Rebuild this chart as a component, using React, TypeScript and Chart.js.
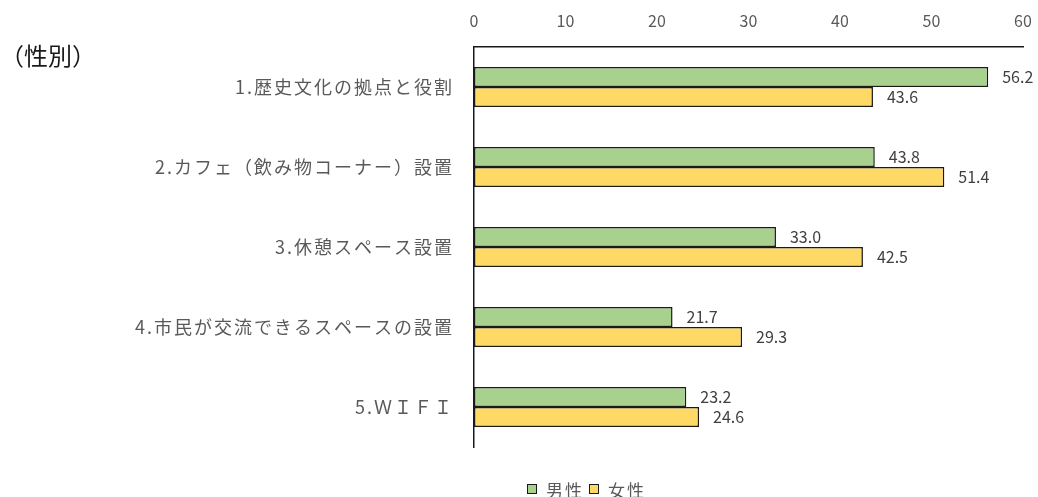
import React, { useEffect, useRef } from "react";
import { Chart, registerables } from "chart.js";

Chart.register(...registerables);

const categories = [
  "1.歴史文化の拠点と役割",
  "2.カフェ（飲み物コーナー）設置",
  "3.休憩スペース設置",
  "4.市民が交流できるスペースの設置",
  "5.ＷＩＦＩ",
];
const maleValues = [56.2, 43.8, 33.0, 21.7, 23.2];
const femaleValues = [43.6, 51.4, 42.5, 29.3, 24.6];
const seriesNames = ["男性", "女性"];
const seriesColors = ["#A9D18E", "#FFD966"];
const titleText = "（性別）";

const FONT = "'Noto Sans CJK JP', 'Noto Sans', sans-serif";

const dataLabelPlugin = {
  id: "dataLabels",
  afterDatasetsDraw(chart: any) {
    const ctx = chart.ctx;
    ctx.save();
    ctx.font = `16px ${FONT}`;
    ctx.fillStyle = "#404040";
    ctx.textAlign = "left";
    ctx.textBaseline = "middle";
    chart.data.datasets.forEach((ds: any, di: number) => {
      const meta = chart.getDatasetMeta(di);
      meta.data.forEach((el: any, i: number) => {
        const v = ds.data[i] as number;
        ctx.fillText(v.toFixed(1), el.x + 14, el.y);
      });
    });
    ctx.restore();
    // wider letter spacing for the category axis labels (drawn after datasets, ticks.z = 1)
    (ctx as any).letterSpacing = "2px";
  },
  afterDraw(chart: any) {
    (chart.ctx as any).letterSpacing = "0px";
  },
};

export default function App() {
  const ref = useRef<HTMLCanvasElement>(null);
  useEffect(() => {
    if (!ref.current) return;
    const chart = new Chart(ref.current, {
      type: "bar",
      data: {
        labels: categories,
        datasets: [maleValues, femaleValues].map((d, k) => ({
          label: seriesNames[k],
          data: d,
          backgroundColor: seriesColors[k],
          borderColor: "#1a1a1a",
          borderWidth: 1.5,
          borderSkipped: false,
          categoryPercentage: 0.5,
          barPercentage: 1,
        })),
      },
      options: {
        indexAxis: "y",
        animation: false,
        responsive: true,
        maintainAspectRatio: false,
        layout: { padding: { left: 0, right: 15, top: 0, bottom: 50 } },
        plugins: {
          legend: { display: false },
          tooltip: { enabled: false },
          title: { display: false },
        },
        scales: {
          x: {
            position: "top",
            min: 0,
            max: 60,
            ticks: {
              stepSize: 10,
              color: "#595959",
              font: { family: FONT, size: 16 },
              padding: 16,
            },
            grid: { display: false, drawTicks: false },
            border: { display: true, color: "#1a1a1a", width: 1.5 },
            afterFit: (s: any) => {
              s.height = 47;
              s.paddingLeft = 0;
              s.paddingRight = 0;
            },
          },
          y: {
            ticks: {
              z: 1,
              color: "#595959",
              font: { family: FONT, size: 18 },
              padding: 20,
            },
            grid: { display: false, drawTicks: false },
            border: { display: true, color: "#1a1a1a", width: 1.5 },
            afterFit: (s: any) => {
              s.width = 474;
            },
          },
        },
      },
      plugins: [dataLabelPlugin],
    } as any);
    return () => chart.destroy();
  }, []);
  return (
    <div style={{ position: "fixed", left: 0, top: 0, width: 1038, height: 497, background: "#fff" }}>
      <div
        style={{
          position: "absolute",
          left: 0,
          top: 40,
          fontFamily: FONT,
          fontSize: 24,
          color: "#1a1a1a",
          lineHeight: "30px",
          whiteSpace: "nowrap",
        }}
      >
        {titleText}
      </div>
      <canvas ref={ref} style={{ width: 1038, height: 497 }} />
      <div
        style={{
          position: "absolute",
          left: 527,
          top: 479,
          height: 20,
          display: "flex",
          alignItems: "center",
          fontFamily: FONT,
          fontSize: 17,
          color: "#595959",
          letterSpacing: "2px",
          whiteSpace: "nowrap",
        }}
      >
        {seriesNames.map((n, k) => (
          <div key={n} style={{ display: "flex", alignItems: "center", marginRight: 5 }}>
            <span
              style={{
                display: "inline-block",
                width: 8,
                height: 8,
                background: seriesColors[k],
                border: "1.5px solid #1a1a1a",
                marginRight: 9,
              }}
            />
            <span>{n}</span>
          </div>
        ))}
      </div>
    </div>
  );
}
